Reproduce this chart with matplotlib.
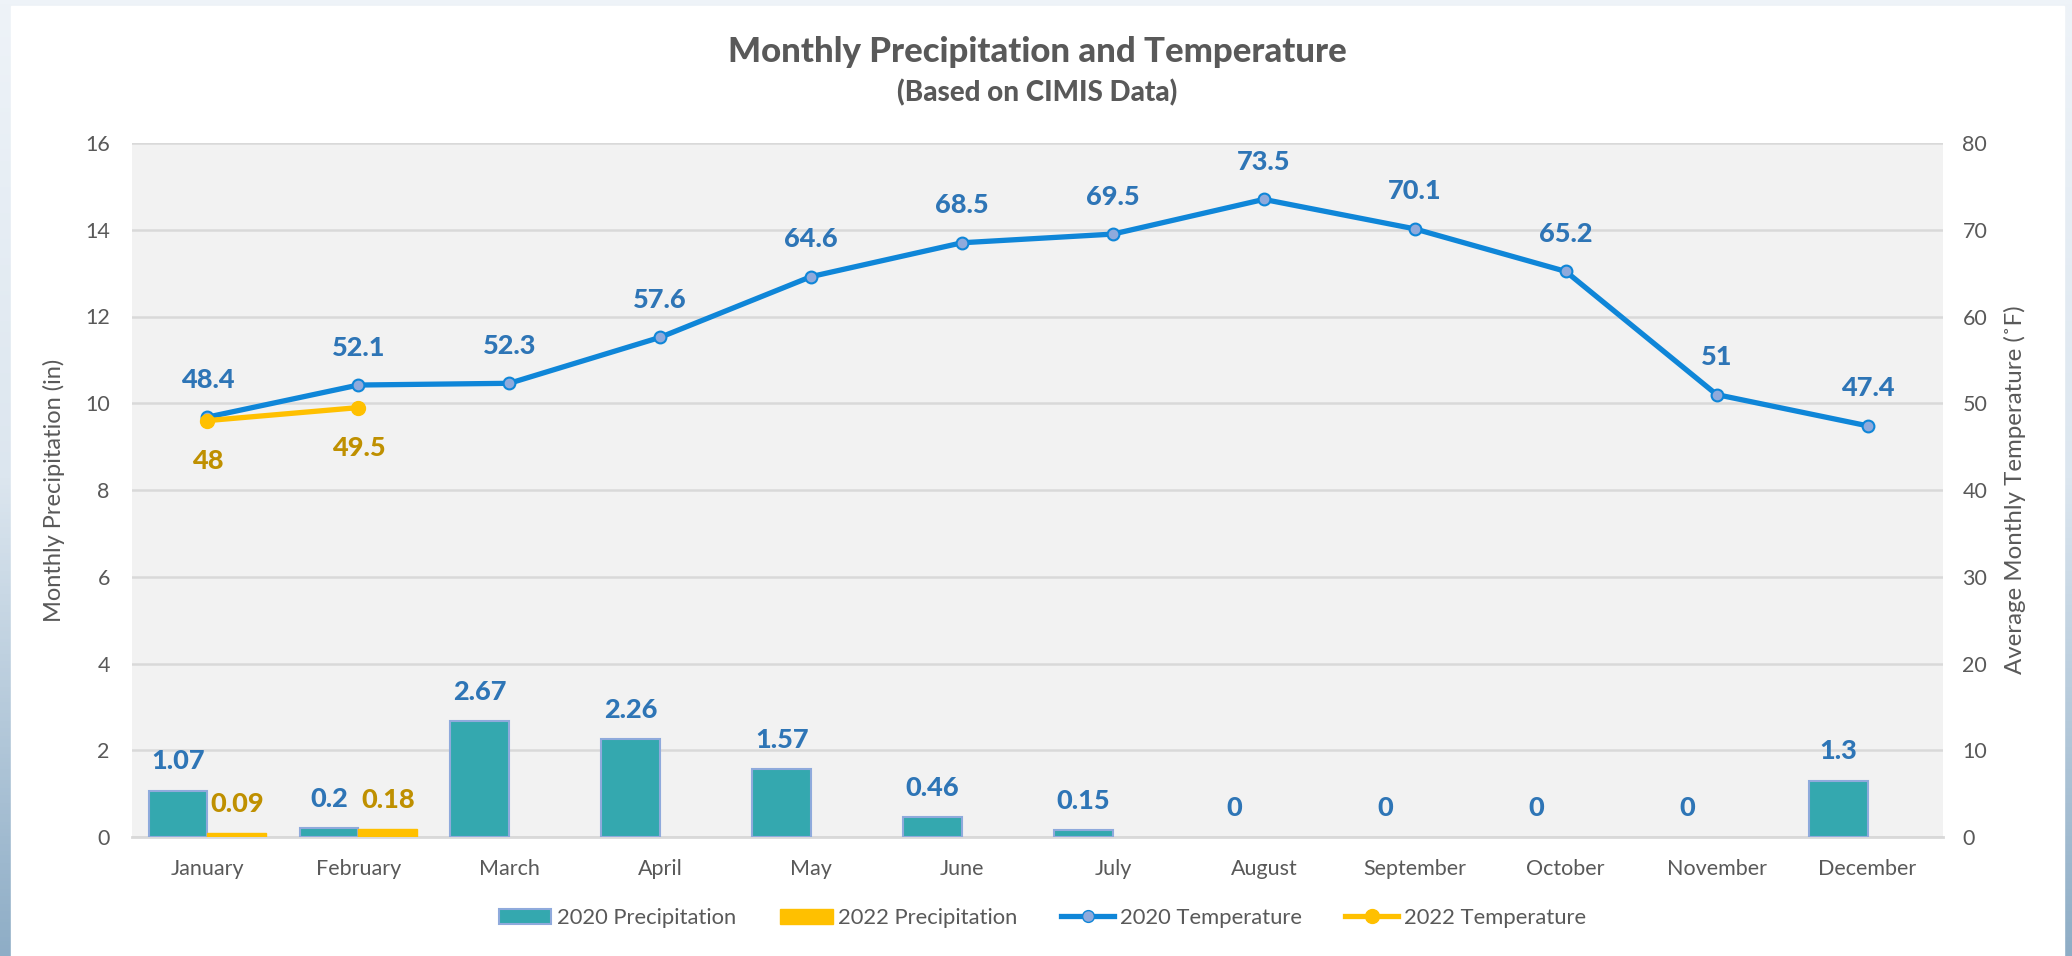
import numpy as np
import matplotlib
matplotlib.use("Agg")
import matplotlib.pyplot as plt
from matplotlib.lines import Line2D
from matplotlib.patches import Patch, Rectangle
from matplotlib.colors import LinearSegmentedColormap

plt.rcParams['font.family'] = ['Lato', 'DejaVu Sans']

months = ["January", "February", "March", "April", "May", "June", "July",
          "August", "September", "October", "November", "December"]
precip_2020 = [1.07, 0.2, 2.67, 2.26, 1.57, 0.46, 0.15, 0, 0, 0, 0, 1.3]
precip_2022 = [0.09, 0.18]
temp_2020 = [48.4, 52.1, 52.3, 57.6, 64.6, 68.5, 69.5, 73.5, 70.1, 65.2, 51, 47.4]
temp_2022 = [48, 49.5]
left_ticks = [0, 2, 4, 6, 8, 10, 12, 14, 16]
right_ticks = [0, 10, 20, 30, 40, 50, 60, 70, 80]

TEXT = '#595959'
TEAL = '#34A8AF'
TEAL_EDGE = '#8FAADC'
GOLD = '#FFC000'
BLUE_LINE = '#0F86D8'
BLUE_LABEL = '#2E75B6'
GOLD_LABEL = '#BF9000'

W, H = 2072, 956
fig = plt.figure(figsize=(W / 100, H / 100), dpi=100)

# background gradient + white card
bg = fig.add_axes([0, 0, 1, 1], zorder=-10)
grad = np.linspace(0, 1, 256).reshape(-1, 1)
cmap = LinearSegmentedColormap.from_list('bg', ['#EEF3F8', '#DCE6EF', '#8EADC6'])
bg.imshow(grad, aspect='auto', cmap=cmap, extent=[0, 1, 0, 1], origin='upper')
bg.add_patch(Rectangle((11 / W, 0), (2064 - 11) / W, 1 - 6 / H, color='white',
                       transform=bg.transAxes))
bg.set_xlim(0, 1)
bg.set_ylim(0, 1)
bg.axis('off')

left, right, top, bottom = 132, 1943, 143, 837
ax = fig.add_axes([left / W, 1 - bottom / H, (right - left) / W, (bottom - top) / H])
ax.set_facecolor('#F2F2F2')
ax2 = ax.twinx()

x = np.arange(len(months))
bw = 0.39
edges = [TEAL_EDGE if v > 0 else 'none' for v in precip_2020]
ax.bar(x - bw / 2, precip_2020, width=bw, color=TEAL, edgecolor=edges,
       linewidth=1.5, zorder=3)
x22 = np.arange(len(precip_2022))
ax.bar(x22 + bw / 2, precip_2022, width=bw, color=GOLD, edgecolor=GOLD,
       linewidth=1.0, zorder=3)

ax.set_xlim(-0.5, len(months) - 0.5)
ax.set_ylim(0, 16)
ax.set_yticks(left_ticks)
ax.set_xticks(x)
ax.set_xticklabels(months)
ax.grid(axis='y', color='#D9D9D9', linewidth=1.8, zorder=0)
ax.set_axisbelow(True)
for s in ax.spines.values():
    s.set_visible(False)
ax.spines['bottom'].set_visible(True)
ax.spines['bottom'].set_color('#D9D9D9')
ax.spines['bottom'].set_linewidth(2)
ax.tick_params(axis='both', length=0, labelsize=15.5, colors=TEXT)
ax.tick_params(axis='x', pad=16)
ax.tick_params(axis='y', pad=16)
ax.set_ylabel("Monthly Precipitation (in)", fontsize=17, color=TEXT, labelpad=14)

ax2.plot(x, temp_2020, color=BLUE_LINE, linewidth=3.8, marker='o', markersize=8.5,
         markerfacecolor='#8FAADC', markeredgecolor=BLUE_LINE, markeredgewidth=1.5,
         zorder=5)
ax2.plot(x22, temp_2022, color=GOLD, linewidth=3.8, marker='o', markersize=10,
         markerfacecolor=GOLD, markeredgecolor=GOLD, zorder=6)
ax2.set_ylim(0, 80)
ax2.set_yticks(right_ticks)
for s in ax2.spines.values():
    s.set_visible(False)
ax2.tick_params(axis='y', length=0, labelsize=15.5, colors=TEXT, pad=14)
ax2.set_ylabel("Average Monthly Temperature (˚F)", fontsize=17.3, color=TEXT,
               labelpad=12)

lab_kw = dict(ha='center', va='center', fontsize=19.5, fontweight='black')
for xi, v in zip(x, temp_2020):
    ax2.annotate(f"{v:g}", (xi, v), xytext=(0, 27), textcoords='offset points',
                 color=BLUE_LABEL, **lab_kw)
for xi, v in zip(x22, temp_2022):
    ax2.annotate(f"{v:g}", (xi, v), xytext=(0, -29), textcoords='offset points',
                 color=GOLD_LABEL, **lab_kw)
for xi, v in zip(x, precip_2020):
    ax.annotate(f"{v:g}", (xi - bw / 2, v), xytext=(0, 21), textcoords='offset points',
                color=BLUE_LABEL, **lab_kw)
for xi, v in zip(x22, precip_2022):
    ax.annotate(f"{v:g}", (xi + bw / 2, v), xytext=(0, 21), textcoords='offset points',
                color=GOLD_LABEL, **lab_kw)

fig.text(0.5006, 1 - 52 / H, "Monthly Precipitation and Temperature", ha='center',
         va='center', fontsize=25, fontweight='black', color=TEXT)
fig.text(0.5006, 1 - 93 / H, "(Based on CIMIS Data)", ha='center', va='center',
         fontsize=20, fontweight='black', color=TEXT)

handles = [
    Patch(facecolor=TEAL, edgecolor=TEAL_EDGE, linewidth=1.5),
    Patch(facecolor=GOLD, edgecolor=GOLD),
    Line2D([], [], color=BLUE_LINE, linewidth=3.8, marker='o', markersize=8.5,
           markerfacecolor='#8FAADC', markeredgecolor=BLUE_LINE),
    Line2D([], [], color=GOLD, linewidth=3.8, marker='o', markersize=10,
           markerfacecolor=GOLD, markeredgecolor=GOLD),
]
labels = ["2020 Precipitation", "2022 Precipitation", "2020 Temperature", "2022 Temperature"]
leg = fig.legend(handles, labels, loc='center', bbox_to_anchor=(0.503, 1 - 918 / H),
                 ncol=4, frameon=False, fontsize=15.8, handlelength=2.4,
                 handletextpad=0.25, columnspacing=2.0)
for t in leg.get_texts():
    t.set_color(TEXT)

fig.savefig("out.png", dpi=100)
